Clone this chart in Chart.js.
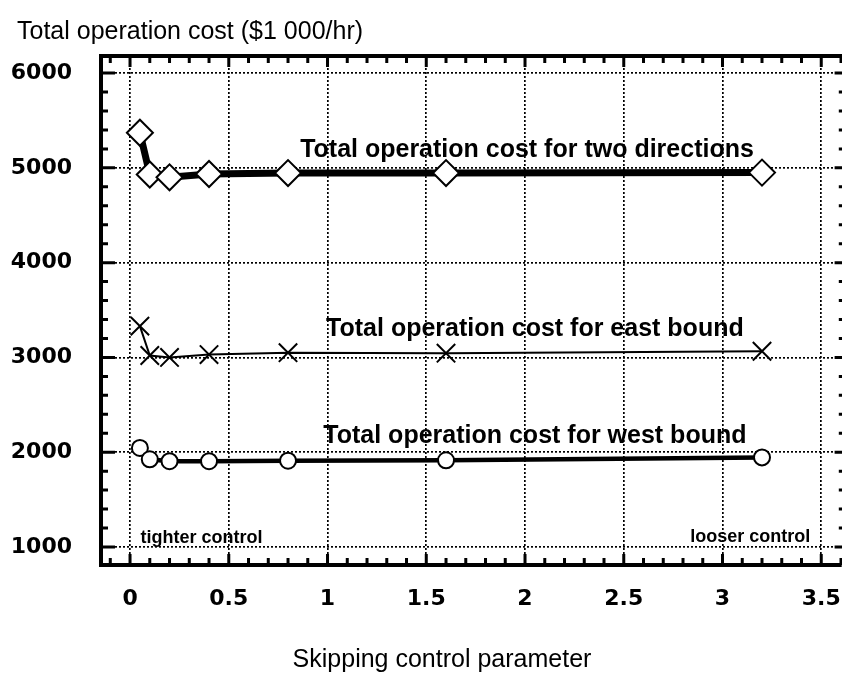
<!DOCTYPE html>
<html>
<head>
<meta charset="utf-8">
<script src="https://cdn.jsdelivr.net/npm/chart.js@4/dist/chart.umd.min.js"></script>
<style>
  html, body { margin: 0; padding: 0; background: #fff; }
  #wrap { width: 842px; height: 673px; }
</style>
</head>
<body>
<div id="wrap"><canvas id="costChart" width="842" height="673"></canvas></div>
<script>
// skipping control parameter values
const skipParams = [0.05, 0.1, 0.2, 0.4, 0.8, 1.6, 3.2];
// total operation cost ($1 000/hr)
const costTwoDirections = [5370, 4930, 4900, 4935, 4945, 4945, 4950];
const costEastBound = [3330, 3020, 3000, 3030, 3050, 3045, 3065];
const costWestBound = [2045, 1925, 1905, 1905, 1910, 1915, 1945];

const xTickValues = [0, 0.5, 1, 1.5, 2, 2.5, 3, 3.5];
const yTickValues = [1000, 2000, 3000, 4000, 5000, 6000];

// labels written inside the plot, placed in data units
const noteTexts = ['Total operation cost for two directions', 'Total operation cost for east bound',
  'Total operation cost for west bound', 'tighter control', 'looser control'];
const noteX = [2.01, 2.05, 2.05, 0.362, 3.14];
const noteY = [5190, 3295, 2170, 1095, 1105];

const yTitle = 'Total operation cost ($1 000/hr)';
const xTitle = 'Skipping control parameter';

const tickFont = { family: 'DejaVu Sans', weight: 'bold', size: 22 };

// top frame, inward tick marks, titles and notes
const decorPlugin = {
  id: 'decor',
  beforeDatasetsDraw(chart) {
    const ctx = chart.ctx;
    const a = chart.chartArea;
    const xs = chart.scales.x, ys = chart.scales.y;
    ctx.save();
    ctx.strokeStyle = '#000';
    ctx.lineCap = 'butt';
    ctx.lineWidth = 3;
    // minor + major ticks on x (bottom and top)
    for (let i = -1; i <= 36; i++) {
      const v = i / 10;
      if (v < xs.min || v > xs.max) continue;
      const px = xs.getPixelForValue(v);
      const len = i % 5 === 0 ? 11 : 7;
      ctx.beginPath();
      ctx.moveTo(px, a.bottom);
      ctx.lineTo(px, a.bottom - len);
      ctx.moveTo(px, a.top);
      ctx.lineTo(px, a.top + len);
      ctx.stroke();
    }
    // ticks on y (left and right edge)
    for (let v = 1000; v <= 6000; v += 200) {
      const py = ys.getPixelForValue(v);
      const len = v % 1000 === 0 ? 14 : 7;
      ctx.beginPath();
      ctx.moveTo(a.left, py);
      ctx.lineTo(a.left + len, py);
      ctx.moveTo(a.right + 2, py);
      ctx.lineTo(a.right + 2 - len * 0.6, py);
      ctx.stroke();
    }
    // top frame line
    ctx.lineWidth = 4;
    ctx.beginPath();
    ctx.moveTo(a.left - 1, a.top);
    ctx.lineTo(a.right + 2, a.top);
    ctx.stroke();
    ctx.restore();
  },
  afterDatasetsDraw(chart) {
    const ctx = chart.ctx;
    const xs = chart.scales.x, ys = chart.scales.y;
    ctx.save();
    ctx.fillStyle = '#000';
    ctx.textAlign = 'center';
    ctx.textBaseline = 'middle';
    noteTexts.forEach((t, i) => {
      ctx.font = i < 3 ? 'bold 25px "Liberation Sans"' : 'bold 18px "Liberation Sans"';
      ctx.fillText(t, xs.getPixelForValue(noteX[i]), ys.getPixelForValue(noteY[i]));
    });
    ctx.font = '25px "Liberation Sans"';
    ctx.textAlign = 'left';
    ctx.fillText(yTitle, 17, 32);
    ctx.textAlign = 'center';
    ctx.fillText(xTitle, 442, 660);
    ctx.restore();
  }
};

const ctx = document.getElementById('costChart').getContext('2d');
const myChart = new Chart(ctx, {
  type: 'line',
  data: {
    datasets: [
      {
        label: 'two directions',
        data: skipParams.map((x, i) => ({ x: x, y: costTwoDirections[i] })),
        borderColor: '#000',
        borderWidth: 7,
        pointStyle: 'rectRot',
        pointRadius: 13,
        pointBorderWidth: 2,
        pointBackgroundColor: '#fff',
        pointBorderColor: '#000',
      },
      {
        label: 'east bound',
        data: skipParams.map((x, i) => ({ x: x, y: costEastBound[i] })),
        borderColor: '#000',
        borderWidth: 2,
        pointStyle: 'crossRot',
        pointRadius: 13,
        pointBorderWidth: 2,
        pointBorderColor: '#000',
      },
      {
        label: 'west bound',
        data: skipParams.map((x, i) => ({ x: x, y: costWestBound[i] })),
        borderColor: '#000',
        borderWidth: 4.5,
        pointStyle: 'circle',
        pointRadius: 8,
        pointBorderWidth: 2,
        pointBackgroundColor: '#fff',
        pointBorderColor: '#000',
      },
    ],
  },
  options: {
    responsive: false,
    animation: false,
    events: [],
    layout: { autoPadding: false, padding: { left: 0, right: 1, top: 56, bottom: 0 } },
    plugins: {
      legend: { display: false },
      tooltip: { enabled: false },
    },
    scales: {
      x: {
        type: 'linear',
        min: -0.147,
        max: 3.6,
        afterFit(scale) {
          scale.height = 108;
          scale.paddingLeft = 0;
          scale.paddingRight = 0;
        },
        afterBuildTicks(scale) { scale.ticks = xTickValues.map(v => ({ value: v })); },
        ticks: { font: tickFont, color: '#000', padding: 0, maxRotation: 0, callback: v => String(v) },
        grid: { color: '#000', lineWidth: 1.7, drawTicks: true, tickLength: 21, tickColor: 'rgba(0,0,0,0)' },
        border: { display: true, color: '#000', width: 4, dash: [2, 2] },
      },
      y: {
        min: 810,
        max: 6180,
        afterFit(scale) {
          scale.width = 101;
          scale.paddingTop = 0;
          scale.paddingBottom = 0;
        },
        afterBuildTicks(scale) { scale.ticks = yTickValues.map(v => ({ value: v })); },
        ticks: { font: tickFont, color: '#000', padding: 0, callback: v => String(v) },
        grid: { color: '#000', lineWidth: 1.7, drawTicks: true, tickLength: 29, tickColor: 'rgba(0,0,0,0)' },
        border: { display: true, color: '#000', width: 4, dash: [2, 2] },
      },
    },
  },
  plugins: [decorPlugin],
});
</script>
</body>
</html>
